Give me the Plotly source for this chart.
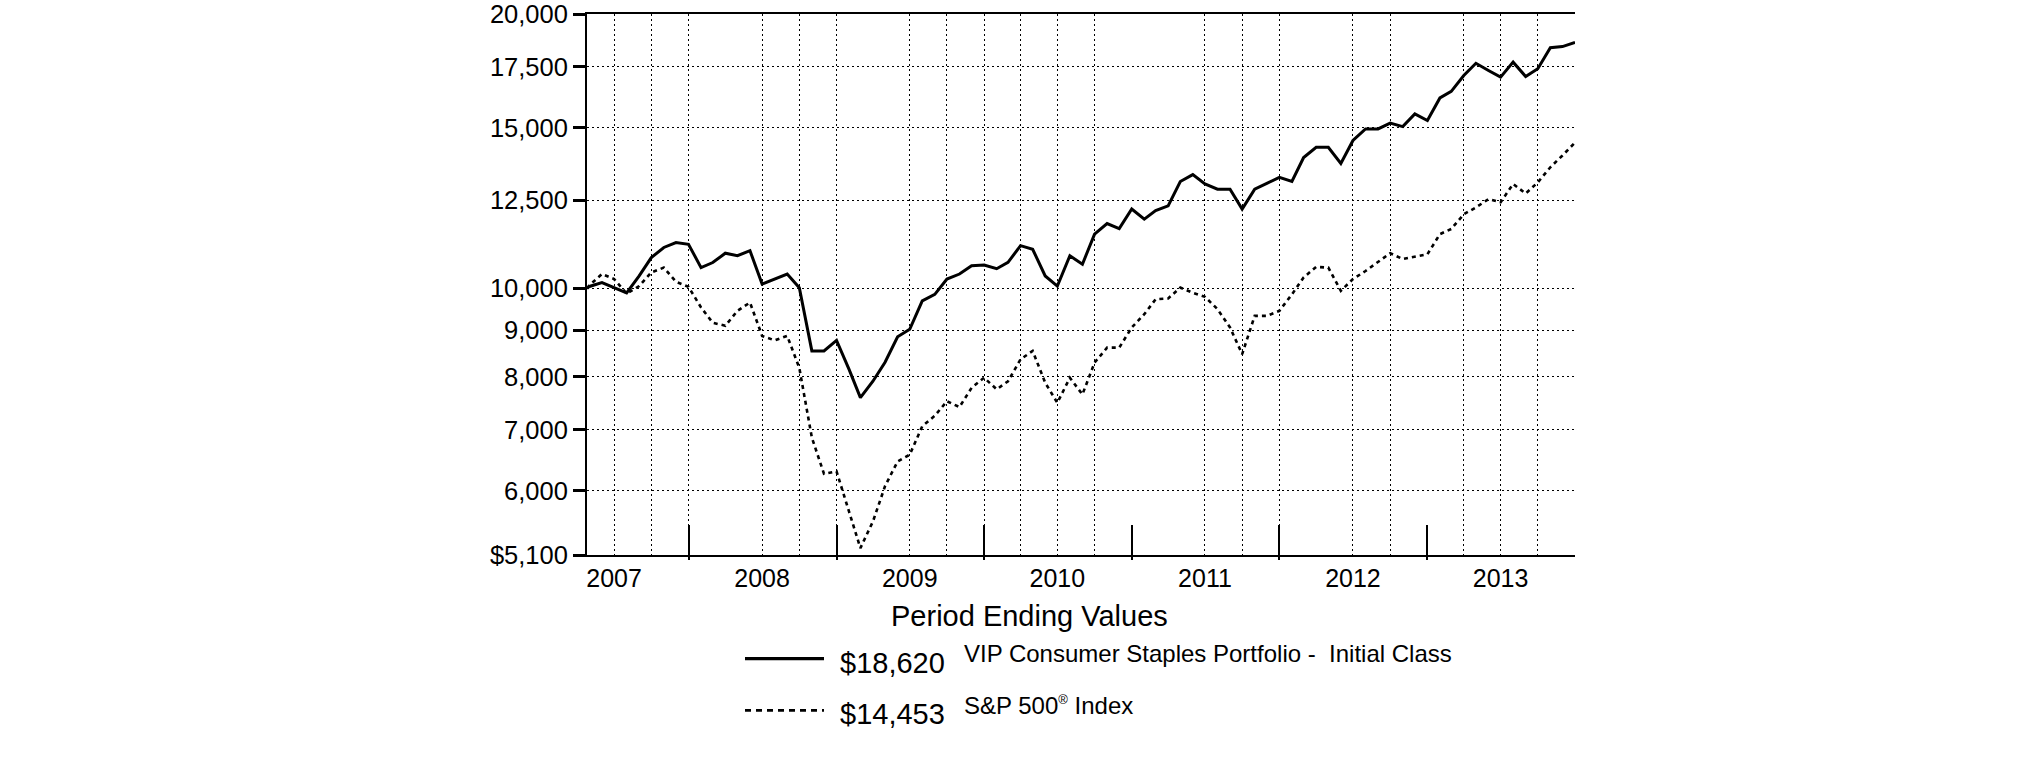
import pandas as pd
import plotly.graph_objects as go

# ---------------- data ----------------
# first point = inception (Apr 24, 2007), then month-end values
dates = ["2007-04-24"] + [d.strftime("%Y-%m-%d") for d in pd.date_range("2007-04-30", "2013-12-31", freq="ME")]

vip_consumer_staples = [
    10000, 10050, 10150, 10020, 9890, 10320, 10810, 11090, 11230, 11180,
    10540, 10675, 10930, 10860, 11000, 10110, 10240, 10370, 10020, 8540, 8540, 8770,
    8150, 7590, 7910, 8300, 8850, 9020, 9690, 9850, 10240, 10370, 10590, 10610,
    10510, 10680, 11140, 11040, 10320, 10060, 10860, 10630, 11470, 11780, 11630, 12220,
    11910, 12170, 12320, 13100, 13330, 13020, 12850, 12850, 12220, 12850, 13040, 13240,
    13100, 13920, 14280, 14280, 13710, 14530, 14960, 14960, 15180, 15050, 15540, 15280,
    16180, 16450, 17120, 17660, 17340, 17050, 17710, 17080, 17420, 18370, 18420, 18620,
]

sp500 = [
    10000, 10080, 10370, 10240, 9870, 10060, 10410, 10540, 10170, 10040,
    9530, 9170, 9100, 9450, 9650, 8870, 8770, 8870, 8180, 6860, 6260, 6300,
    5690, 5190, 5550, 6070, 6460, 6570, 7060, 7250, 7520, 7410, 7780, 7980,
    7750, 7910, 8360, 8540, 7880, 7490, 7980, 7650, 8290, 8610, 8610, 9060,
    9370, 9730, 9750, 10020, 9890, 9790, 9490, 9060, 8470, 9330, 9330, 9450,
    9850, 10280, 10560, 10540, 9940, 10240, 10450, 10680, 10930, 10770, 10830, 10900,
    11470, 11620, 12060, 12270, 12530, 12430, 13020, 12710, 13070, 13580, 13990, 14453,
]

series_names = ["VIP Consumer Staples Portfolio -  Initial Class",
                "S&amp;P 500<sup><span style='font-size:13px'>®</span></sup> Index"]

y_tick_values = [5100, 6000, 7000, 8000, 9000, 10000, 12500, 15000, 17500, 20000]
y_tick_labels = ["$5,100", "6,000", "7,000", "8,000", "9,000", "10,000", "12,500", "15,000", "17,500", "20,000"]

year_label_dates = ["2007-06-30", "2008-06-30", "2009-06-30", "2010-06-30", "2011-06-30", "2012-06-30", "2013-06-30"]
year_labels = ["2007", "2008", "2009", "2010", "2011", "2012", "2013"]
year_end_dates = ["2007-12-31", "2008-12-31", "2009-12-31", "2010-12-31", "2011-12-31", "2012-12-31"]
grid_dates = ["2007-06-30", "2007-09-30", "2007-12-31", "2008-06-30", "2008-09-30", "2008-12-31",
              "2009-06-30", "2009-09-30", "2009-12-31", "2010-03-31", "2010-06-30", "2010-09-30",
              "2011-06-30", "2011-09-30", "2011-12-31", "2012-06-30", "2012-09-30",
              "2013-03-31", "2013-06-30", "2013-09-30"]

x_range = ["2007-04-24", "2013-12-31"]

# ---------------- layout helpers ----------------
W, H = 2025, 761
X0, X1 = 587, 1575
Y0, Y1 = 555.3, 14.3


def px(x):
    return (x - X0) / (X1 - X0)


def py(y):
    return (Y0 - y) / (Y0 - Y1)


FONT = "Liberation Sans, Arial, Helvetica, sans-serif"
GRID = dict(showgrid=True, gridcolor="#000000", gridwidth=1, griddash="2px,3px")
BLANK_AX = dict(type="date", range=x_range, overlaying="x", anchor="y", side="bottom",
                tickmode="array", showticklabels=False, showline=False, zeroline=False)

fig = go.Figure()
# empty helper traces so the overlay axes (grid / year-end ticks) get drawn
for ax in ["x4", "x2", "x3"]:
    fig.add_trace(go.Scatter(x=x_range, y=[None, None], xaxis=ax, yaxis="y", mode="lines",
                             showlegend=False, hoverinfo="skip"))
fig.add_trace(go.Scatter(x=dates, y=vip_consumer_staples, mode="lines",
                         line=dict(color="#000000", width=3), showlegend=False))
fig.add_trace(go.Scatter(x=dates, y=sp500, mode="lines",
                         line=dict(color="#000000", width=2.6, dash="4px,4px"), showlegend=False))

fig.update_layout(
    width=W, height=H,
    margin=dict(l=X0, r=W - X1, t=14, b=206, autoexpand=False),
    paper_bgcolor="white", plot_bgcolor="white",
    font=dict(family=FONT, color="#000000"),
    showlegend=False,
    xaxis=dict(
        type="date", range=x_range,
        tickmode="array", tickvals=year_label_dates, ticktext=year_labels,
        ticks="", tickfont=dict(size=25, family=FONT, color="#000000"),
        showline=True, linecolor="#000000", linewidth=2, mirror=True,
        zeroline=False, showgrid=False,
    ),
    # vertical dotted grid
    xaxis4=dict(tickvals=grid_dates, ticks="", **GRID, **BLANK_AX),
    # year-end ticks (long part inside the plot, short part below the axis)
    xaxis2=dict(tickvals=year_end_dates, ticks="inside", ticklen=30, tickwidth=2,
                tickcolor="#000000", showgrid=False, **BLANK_AX),
    xaxis3=dict(tickvals=year_end_dates, ticks="outside", ticklen=4, tickwidth=2,
                tickcolor="#000000", showgrid=False, **BLANK_AX),
    yaxis=dict(
        type="log", range=[3.70757, 4.30103],
        tickmode="array", tickvals=y_tick_values, ticktext=y_tick_labels,
        ticks="outside", ticklen=12, tickwidth=2.5, tickcolor="#000000",
        tickfont=dict(size=25.5, family=FONT, color="#000000"),
        ticklabeloverflow="allow",
        showline=True, linecolor="#000000", linewidth=2,
        zeroline=False, **GRID,
    ),
)

# ---------------- legend (drawn manually) ----------------
legend_values = [vip_consumer_staples[-1], sp500[-1]]
row_line_y = [659, 710.7]
row_value_y = [662.8, 714.5]
row_name_y = [654.0, 705.3]
row_dash = ["solid", "6px,5px"]
row_width = [3.3, 2.6]

fig.add_annotation(x=px(1029.7), y=py(616.0), xref="paper", yref="paper",
                   text="Period Ending Values", showarrow=False,
                   xanchor="center", yanchor="middle",
                   font=dict(size=29, family=FONT, color="#000000"))

for i in range(2):
    fig.add_shape(type="line", xref="paper", yref="paper",
                  x0=px(745), x1=px(824), y0=py(row_line_y[i]), y1=py(row_line_y[i]),
                  line=dict(color="#000000", width=row_width[i], dash=row_dash[i]))
    fig.add_annotation(x=px(838), y=py(row_value_y[i]), xref="paper", yref="paper",
                       text=f"${legend_values[i]:,}", showarrow=False,
                       xanchor="left", yanchor="middle",
                       font=dict(size=29, family=FONT, color="#000000"))
    fig.add_annotation(x=px(962), y=py(row_name_y[i]), xref="paper", yref="paper",
                       text=series_names[i], showarrow=False,
                       xanchor="left", yanchor="middle",
                       font=dict(size=24, family=FONT, color="#000000"))

fig.write_html("out.html", config={"displayModeBar": False},
               post_script="document.body.style.margin='0';document.body.style.padding='0';")
